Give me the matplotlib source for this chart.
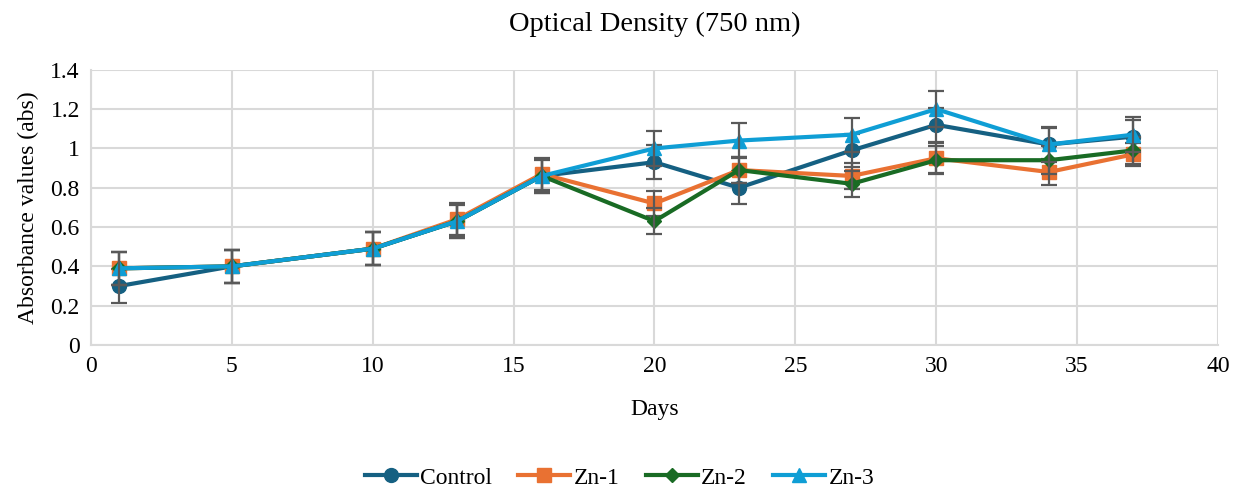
import numpy as np
import matplotlib.pyplot as plt
from matplotlib.ticker import MultipleLocator

plt.rcParams['font.family'] = ['Liberation Serif', 'DejaVu Serif']

days = [1, 5, 10, 13, 16, 20, 23, 27, 30, 34, 37]

control = [0.30, 0.40, 0.49, 0.63, 0.86, 0.93, 0.80, 0.99, 1.12, 1.02, 1.06]
zn1 = [0.39, 0.40, 0.49, 0.64, 0.87, 0.72, 0.89, 0.86, 0.95, 0.88, 0.97]
zn2 = [0.39, 0.40, 0.49, 0.63, 0.86, 0.63, 0.89, 0.82, 0.94, 0.94, 0.99]
zn3 = [0.39, 0.40, 0.49, 0.63, 0.86, 1.00, 1.04, 1.07, 1.20, 1.02, 1.07]

control_err = [0.085, 0.085, 0.085, 0.085, 0.085, 0.085, 0.085, 0.085, 0.087, 0.085, 0.085]
zn1_err = [0.085, 0.085, 0.085, 0.08, 0.08, 0.065, 0.065, 0.065, 0.076, 0.066, 0.06]
zn2_err = [0.085, 0.085, 0.085, 0.08, 0.08, 0.065, 0.065, 0.066, 0.07, 0.07, 0.07]
zn3_err = [0.085, 0.085, 0.085, 0.085, 0.085, 0.09, 0.09, 0.087, 0.09, 0.09, 0.09]

series = [
    ('Control', control, control_err, '#156082', 'o', 10),
    ('Zn-1', zn1, zn1_err, '#E97132', 's', 9.5),
    ('Zn-2', zn2, zn2_err, '#196B24', 'D', 7.5),
    ('Zn-3', zn3, zn3_err, '#0F9ED5', '^', 10),
]

fig = plt.figure(figsize=(12.39, 4.88), dpi=100)
ax = fig.add_axes([0.0734, 0.293, 0.9096, 0.564])

for i, (name, vals, err, col, mk, ms) in enumerate(series):
    ax.plot(days, vals, color=col, lw=3, marker=mk, markersize=ms, label=name, zorder=3 + i)
    ax.errorbar(days, vals, yerr=err, fmt='none', ecolor='#595959', elinewidth=1.6,
                capsize=6, capthick=1.6, zorder=3 + i)

ax.set_xlim(0, 40)
ax.set_ylim(0, 1.4)
ax.xaxis.set_major_locator(MultipleLocator(5))
ax.yaxis.set_major_locator(MultipleLocator(0.2))
ax.yaxis.set_major_formatter(plt.FuncFormatter(lambda v, p: '%g' % round(v, 2)))
ax.grid(True, color='#D9D9D9', lw=1.5)
ax.set_axisbelow(True)
for s in ['top', 'right']:
    ax.spines[s].set_visible(False)
for s in ['left', 'bottom']:
    ax.spines[s].set_color('#D9D9D9')
    ax.spines[s].set_linewidth(1.5)
ax.tick_params(length=0, labelsize=17, pad=8, colors='black')

ax.set_title('Optical Density (750 nm)', fontsize=20.5, pad=28)
ax.set_xlabel('Days', fontsize=17, labelpad=16)
ax.set_ylabel('Absorbance values (abs)', fontsize=17, labelpad=8)

fig.legend(loc='lower center', bbox_to_anchor=(0.5, -0.045), ncol=4, frameon=False,
           fontsize=17, handlelength=2.2, columnspacing=1.1, handletextpad=0.15)

fig.savefig('out.png', dpi=100)
